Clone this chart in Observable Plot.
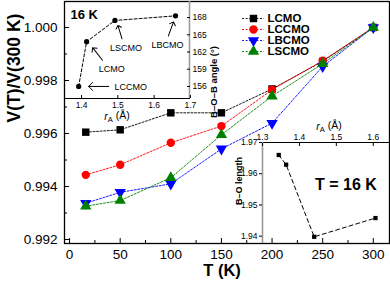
<!DOCTYPE html>
<html><head><meta charset="utf-8">
<script src="https://cdn.jsdelivr.net/npm/d3@7"></script>
<script src="https://cdn.jsdelivr.net/npm/@observablehq/plot@0.6"></script>
<style>
body{margin:0;background:#fff;}
#wrap{position:relative;width:390px;height:282px;overflow:hidden;}
#wrap svg{position:absolute;overflow:visible;}
</style></head><body><div id="wrap"></div>
<script>
// ---- main chart data ----
const temps = [16, 50, 100, 150, 200, 250, 300];
const series = ["LCMO", "LCCMO", "LBCMO", "LSCMO"];
const vLCMO  = [0.99605, 0.99614, 0.99678, 0.99678, 0.99768, 0.99872, 1.000];
const vLCCMO = [0.99444, 0.99482, 0.99565, 0.99628, 0.99765, 0.99875, 1.000];
const vLBCMO = [0.99337, 0.99378, 0.99410, 0.99542, 0.99639, 0.99853, 1.000];
const vLSCMO = [0.99326, 0.99347, 0.99433, 0.99595, 0.99741, 0.99863, 1.000];
const xTicks = [0, 50, 100, 150, 200, 250, 300];
const xMinor = [25, 75, 125, 175, 225, 275];
const yTicks = [0.992, 0.994, 0.996, 0.998, 1.000];
const yMinor = [0.993, 0.995, 0.997, 0.999];

// ---- inset 1 (B-O-B angle vs rA, 16 K) ----
const inset1Names = ["LCCMO", "LCMO", "LSCMO", "LBCMO"];
const inset1R = [1.392, 1.414, 1.492, 1.659];
const inset1Angle = [156.0, 163.8, 167.5, 168.3];
const inset1XTicks = [1.4, 1.5, 1.6, 1.7];
const inset1YTicks = [156, 159, 162, 165, 168];

// ---- inset 2 (B-O length vs rA, T = 16 K) ----
const inset2R = [1.344, 1.364, 1.440, 1.606];
const inset2Len = [1.9660, 1.9629, 1.9398, 1.9458];
const inset2XTicks = [1.3, 1.4, 1.5, 1.6];
const inset2YTicks = [1.94, 1.95, 1.96, 1.97];

const colors = ["#000000", "#ff0000", "#0000ff", "#008000"];
const symbolRange = ["square", "circle", "triangle", "triangle"];
const FONT = "'Liberation Sans', Arial, sans-serif";

const values = [vLCMO, vLCCMO, vLBCMO, vLSCMO];
const data = series.flatMap((s, i) => temps.map((t, j) => ({series: s, T: t, v: values[i][j]})));
const rot = s => (s === "LBCMO" ? 180 : 0);

const wrap = document.getElementById("wrap");
function place(svg, left, top) {
  svg.style.left = left + "px";
  svg.style.top = top + "px";
  wrap.appendChild(svg);
}
function subscriptA(svg) {
  d3.select(svg).selectAll("text").each(function () {
    if (this.textContent === "rA (Å)") {
      const t = d3.select(this);
      t.text(null);
      t.append("tspan").attr("font-style", "italic").text("r");
      t.append("tspan").attr("dy", "0.3em").attr("font-size", "0.72em").text("A");
      t.append("tspan").attr("dy", "-0.3em").text(" (Å)");
    }
  });
}

// ---- main plot ----
const main = Plot.plot({
  width: 390, height: 282,
  marginLeft: 64, marginRight: 1, marginTop: 1, marginBottom: 39,
  style: {fontFamily: FONT, fontSize: "13.5px", background: "white", color: "black"},
  x: {domain: [-5, 316]},
  y: {domain: [0.99185, 1.00098]},
  color: {domain: series, range: colors},
  symbol: {domain: series, range: symbolRange},
  marks: [
    Plot.frame({stroke: "black", strokeWidth: 1.3}),
    Plot.axisX({ticks: xTicks, tickSize: 0, tickPadding: 6, label: null}),
    Plot.axisX({ticks: xTicks, tickSize: -5, text: null, label: null}),
    Plot.axisX({ticks: xMinor, tickSize: -3, text: null, label: null}),
    Plot.axisY({ticks: yTicks, tickSize: 0, tickPadding: 7, tickFormat: d3.format(".3f"), label: null}),
    Plot.axisY({ticks: yTicks, tickSize: -5, text: null, label: null}),
    Plot.axisY({ticks: yMinor, tickSize: -3, text: null, label: null}),
    Plot.line(data, {x: "T", y: "v", stroke: "series", strokeDasharray: "2,1.6", strokeWidth: 0.9}),
    Plot.dot(data, {x: "T", y: "v", fill: "series", symbol: "series", rotate: d => rot(d.series), r: 4.2}),
    Plot.text(["V(T)/V(300 K)"], {text: d => d, frameAnchor: "left", rotate: -90, dx: -50, fontWeight: "bold", fontSize: 17.5}),
    Plot.text(["T (K)"], {text: d => d, frameAnchor: "bottom", dx: -5, dy: 32.5, fontWeight: "bold", fontSize: 16.5})
  ]
});
place(main, 0, 0);

// ---- legend ----
const legend = Plot.plot({
  width: 110, height: 60,
  marginLeft: 6, marginRight: 82, marginTop: 8, marginBottom: 8,
  style: {fontFamily: FONT, background: "transparent", color: "black"},
  x: {domain: [0, 1], axis: null},
  y: {type: "point", domain: series, axis: null},
  color: {domain: series, range: colors},
  symbol: {domain: series, range: symbolRange},
  marks: [
    Plot.ruleY(series, {y: d => d, stroke: d => d, strokeDasharray: "2,1.6", strokeWidth: 0.9}),
    Plot.dot(series, {y: d => d, fill: d => d, symbol: d => d, rotate: d => rot(d), r: 4.2}),
    Plot.text(series, {y: d => d, text: d => d, frameAnchor: "right", textAnchor: "start", dx: 3, fontWeight: "bold", fontSize: 11.5})
  ]
});
place(legend, 236, 4);

// ---- inset 1 ----
const inset1 = inset1Names.map((n, i) => ({name: n, r: inset1R[i], angle: inset1Angle[i]}));
const callouts = {
  LCCMO: {tdx: 52, tdy: 1, adx: 10, ady: 0, len: 20, rot: -90},
  LCMO:  {tdx: 25, tdy: 27, adx: 6, ady: 6, len: 16, rot: -38},
  LSCMO: {tdx: 11, tdy: 28, adx: 3, ady: 5, len: 14, rot: -17},
  LBCMO: {tdx: -8, tdy: 29, adx: -2, ady: 6, len: 15, rot: 20}
};
const in1X = [1.353, 1.6975];
const in1 = Plot.plot({
  width: 235, height: 125,
  marginLeft: 64, marginRight: 46, marginTop: 1, marginBottom: 27,
  style: {fontFamily: FONT, fontSize: "8.5px", background: "transparent", color: "black"},
  x: {domain: in1X},
  y: {domain: [153.9, 170.8]},
  marks: [
    Plot.frame({stroke: "black", strokeWidth: 1}),
    Plot.ruleX([in1X[1]], {stroke: "#999", strokeWidth: 1.6}),
    Plot.axisX({ticks: inset1XTicks, tickSize: 0, tickPadding: 3, label: null, tickFormat: d3.format(".1f")}),
    Plot.axisX({ticks: inset1XTicks, tickSize: -3, text: null, label: null}),
    Plot.axisY({anchor: "right", ticks: inset1YTicks, tickSize: 0, tickPadding: 3, label: null}),
    Plot.axisY({anchor: "right", ticks: inset1YTicks, tickSize: -3, text: null, label: null}),
    Plot.line(inset1, {x: "r", y: "angle", stroke: "black", strokeDasharray: "3,2", strokeWidth: 1}),
    Plot.dot(inset1, {x: "r", y: "angle", fill: "black", r: 2.6}),
    ...inset1Names.map(n => Plot.text(inset1.filter(d => d.name === n), {
      x: "r", y: "angle", text: "name", dx: callouts[n].tdx, dy: callouts[n].tdy, fontSize: 9
    })),
    ...inset1Names.map(n => Plot.vector(inset1.filter(d => d.name === n), {
      x: "r", y: "angle", anchor: "end", length: callouts[n].len, rotate: callouts[n].rot,
      dx: callouts[n].adx, dy: callouts[n].ady, stroke: "black", strokeWidth: 1
    })),
    Plot.text(["16 K"], {text: d => d, frameAnchor: "top-left", textAnchor: "start", lineAnchor: "top", dx: 6, dy: 8, fontWeight: "bold", fontSize: 13}),
    Plot.text(["rA (Å)"], {text: d => d, frameAnchor: "bottom", dx: -10, dy: 21, fontSize: 10.5}),
    Plot.text(["B–O–B angle (°)"], {text: d => d, frameAnchor: "right", rotate: -90, dx: 24, dy: -4, fontWeight: "bold", fontSize: 9.5})
  ]
});
subscriptA(in1);
place(in1, 0, 0);

// ---- inset 2 ----
const inset2 = inset2R.map((r, i) => ({r, len: inset2Len[i]}));
const in2X = [1.3, 1.644];
const in2 = Plot.plot({
  width: 165, height: 172,
  marginLeft: 37, marginRight: 1, marginTop: 32, marginBottom: 39,
  style: {fontFamily: FONT, fontSize: "8.5px", background: "transparent", color: "black"},
  x: {domain: in2X},
  y: {domain: [1.93765, 1.97]},
  marks: [
    Plot.frame({stroke: "black", strokeWidth: 1}),
    Plot.ruleX([in2X[0]], {stroke: "#999", strokeWidth: 1.6}),
    Plot.axisX({anchor: "top", ticks: inset2XTicks, tickSize: 0, tickPadding: 3, label: null, tickFormat: d3.format(".1f")}),
    Plot.axisX({anchor: "top", ticks: inset2XTicks, tickSize: -3, text: null, label: null}),
    Plot.axisY({ticks: inset2YTicks, tickSize: 3, tickPadding: 2, label: null, tickFormat: d3.format(".2f")}),
    Plot.line(inset2, {x: "r", y: "len", stroke: "black", strokeDasharray: "4,3", strokeWidth: 1}),
    Plot.dot(inset2, {x: "r", y: "len", fill: "black", symbol: "square", r: 2.4}),
    Plot.text(["T = 16 K"], {text: d => d, frameAnchor: "middle", dx: 20, dy: -8, fontWeight: "bold", fontSize: 16}),
    Plot.text(["rA (Å)"], {text: d => d, frameAnchor: "top", dx: 3, dy: -20, fontSize: 10.5}),
    Plot.text(["B–O length"], {text: d => d, frameAnchor: "left", rotate: -90, dx: -23, dy: 12, fontWeight: "bold", fontSize: 9})
  ]
});
subscriptA(in2);
place(in2, 225, 110);
</script>
</body></html>
